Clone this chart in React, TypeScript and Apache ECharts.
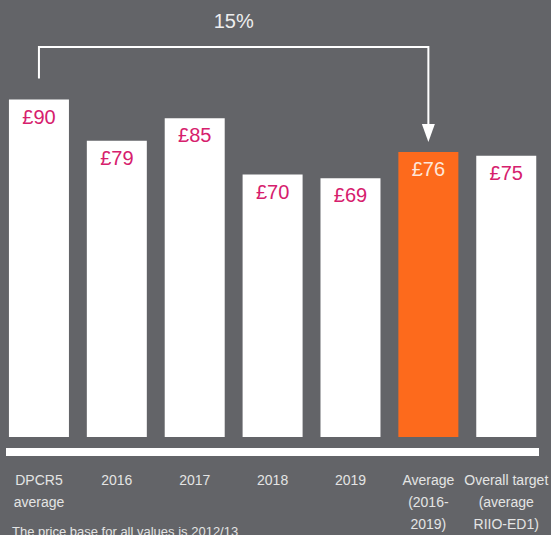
import React, { useEffect, useRef } from "react";
import * as echarts from "echarts";

const categories = [
  "DPCR5\naverage",
  "2016",
  "2017",
  "2018",
  "2019",
  "Average\n(2016-\n2019)",
  "Overall target\n(average\nRIIO-ED1)",
];
const values = [90, 79, 85, 70, 69, 76, 75];
const highlightIndex = 5;
const bracketFrom = 0;
const bracketTo = 5;
const changeLabel = "15%";
const footnote = "The price base for all values is 2012/13";

const BG = "#636468";
const MAGENTA = "#d6206d";
const ORANGE = "#fd6a1c";
const FONT = "'Liberation Sans', Arial, Helvetica, sans-serif";

export default function App() {
  const ref = useRef<HTMLDivElement>(null);
  useEffect(() => {
    document.body.style.margin = "0";
    const chart = echarts.init(ref.current!, null, { renderer: "svg" });
    chart.setOption({
      animation: false,
      backgroundColor: BG,
      grid: { left: -2, right: 4, top: 62, bottom: 94 },
      xAxis: {
        type: "category",
        data: categories,
        axisLine: { show: false },
        axisTick: { show: false },
        axisLabel: {
          interval: 0,
          margin: 32,
          color: "#e4e4e4",
          fontSize: 14,
          lineHeight: 22,
          fontFamily: FONT,
          verticalAlign: "top",
        },
      },
      yAxis: {
        type: "value",
        min: 0,
        max: 100,
        show: false,
        splitLine: { show: false },
      },
      series: [
        {
          type: "bar",
          barWidth: 60,
          data: values.map((v, i) => ({
            value: v,
            itemStyle: { color: i === highlightIndex ? ORANGE : "#ffffff" },
            label: {
              color: i === highlightIndex ? "#fde6da" : MAGENTA,
            },
          })),
          label: {
            show: true,
            position: "insideTop",
            distance: 7,
            fontSize: 20,
            fontFamily: FONT,
            formatter: (p: any) => "£" + p.value,
          },
        },
      ],
    });

    const pFrom = chart.convertToPixel({ seriesIndex: 0 }, [bracketFrom, values[bracketFrom]]);
    const pTo = chart.convertToPixel({ seriesIndex: 0 }, [bracketTo, values[bracketTo]]);
    const pBase = chart.convertToPixel({ seriesIndex: 0 }, [0, 0]);
    const lineY = 47;
    const x1 = pFrom[0];
    const x2 = pTo[0];
    const tipY = pTo[1] - 10;
    chart.setOption({
      graphic: [
        {
          type: "polyline",
          shape: {
            points: [
              [x1, pFrom[1] - 21],
              [x1, lineY],
              [x2, lineY],
              [x2, tipY - 16],
            ],
          },
          style: { stroke: "#ffffff", lineWidth: 2, fill: null },
        },
        {
          type: "polygon",
          shape: {
            points: [
              [x2 - 6.5, tipY - 18],
              [x2 + 6.5, tipY - 18],
              [x2, tipY],
            ],
          },
          style: { fill: "#ffffff" },
        },
        {
          type: "text",
          x: (x1 + x2) / 2,
          y: 21,
          style: {
            text: changeLabel,
            fill: "#eeeeee",
            fontSize: 20,
            fontFamily: FONT,
            align: "center",
            verticalAlign: "middle",
          },
        },
        {
          type: "rect",
          shape: { x: 6, y: pBase[1] + 11, width: 533, height: 8 },
          style: { fill: "#ffffff" },
        },
        {
          type: "text",
          x: 12,
          y: 531,
          style: {
            text: footnote,
            fill: "#e4e4e4",
            fontSize: 13,
            fontFamily: FONT,
            align: "left",
            verticalAlign: "middle",
          },
        },
      ],
    });
    return () => chart.dispose();
  }, []);
  return (
    <div
      ref={ref}
      style={{ position: "absolute", left: 0, top: 0, width: 551, height: 535 }}
    />
  );
}
